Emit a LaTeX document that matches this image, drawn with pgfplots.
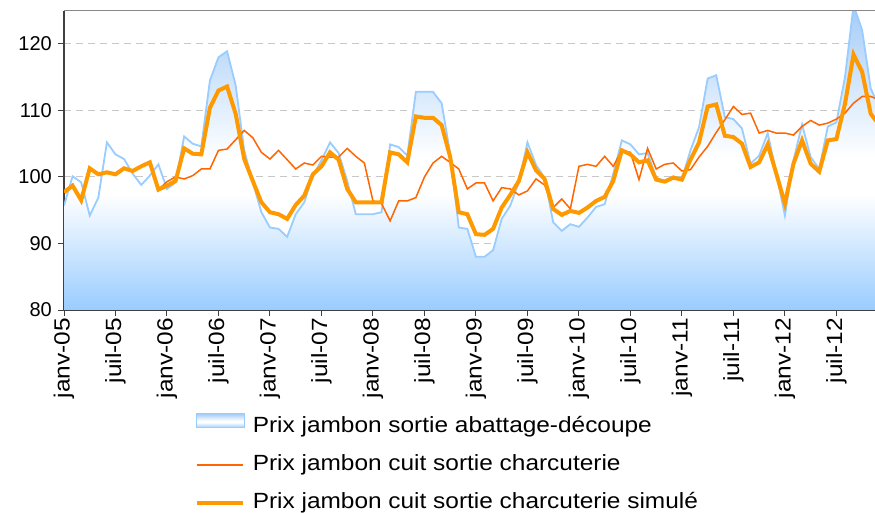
\documentclass[border=0pt]{standalone}
\usepackage{fontspec}
\setmainfont{Liberation Sans}
\newfontfamily\widefont[FakeStretch=1.11]{Liberation Sans}
\usepackage{pgfplots}
\pgfplotsset{compat=1.18}
\usepackage{pgfplotstable}
\definecolor{fillbot}{HTML}{99CCFF}
\definecolor{filltop}{HTML}{A3CCF8}
\definecolor{blueline}{HTML}{99CCFF}
\definecolor{thinor}{HTML}{FF6600}
\definecolor{thickor}{HTML}{FF9900}
\definecolor{gridc}{HTML}{C8C8C8}
\definecolor{axc}{HTML}{404040}
\definecolor{framec}{HTML}{888888}
\pgfdeclareverticalshading{areashade}{100bp}{color(0bp)=(fillbot); color(25bp)=(fillbot); color(44bp)=(white); color(50bp)=(white); color(75bp)=(filltop); color(100bp)=(filltop)}

\pgfplotstableread{
i abat cuit sim
0 95.7 97.7 97.7
1 100.1 98.7 98.7
2 99.2 96.5 96.5
3 94.2 101.3 101.3
4 96.9 100.4 100.4
5 105.2 100.7 100.7
6 103.4 100.4 100.4
7 102.7 101.3 101.3
8 100.5 100.9 100.9
9 98.8 101.6 101.6
10 100.2 102.2 102.2
11 101.9 98.1 98.1
12 98.2 99.3 98.7
13 99.2 100.0 99.4
14 106.1 99.7 104.3
15 105.0 100.2 103.5
16 104.6 101.2 103.4
17 114.5 101.2 110.4
18 118.0 104.0 113.0
19 118.9 104.2 113.6
20 113.8 105.6 109.5
21 104.0 107.0 102.7
22 99.2 105.9 99.4
23 94.7 103.7 96.2
24 92.4 102.7 94.7
25 92.2 104.0 94.4
26 91.0 102.6 93.7
27 94.4 101.2 95.8
28 96.2 102.1 97.2
29 100.2 101.8 100.4
30 102.5 103.1 101.6
31 105.2 103.0 103.7
32 103.6 103.0 102.6
33 99.4 104.3 98.2
34 94.4 103.1 96.2
35 94.4 102.1 96.2
36 94.4 96.4 96.2
37 94.7 96.0 96.2
38 104.9 93.4 103.7
39 104.5 96.4 103.4
40 103.2 96.4 102.2
41 112.8 96.9 109.1
42 112.8 100.0 108.9
43 112.8 102.1 108.9
44 111.1 103.1 107.8
45 103.5 102.2 103.0
46 92.4 101.2 94.7
47 92.2 98.2 94.4
48 88.0 99.1 91.4
49 88.0 99.1 91.3
50 89.0 96.4 92.2
51 93.7 98.4 95.4
52 95.7 98.2 97.3
53 99.2 97.3 99.4
54 105.2 97.9 103.7
55 101.8 99.7 101.0
56 99.9 98.8 99.7
57 93.2 95.4 95.2
58 91.9 96.7 94.3
59 92.9 95.2 94.9
60 92.5 101.6 94.6
61 93.9 101.9 95.4
62 95.5 101.6 96.4
63 95.9 103.1 97.0
64 100.5 101.6 99.4
65 105.5 104.0 104.0
66 104.9 103.7 103.4
67 103.4 99.6 102.2
68 103.6 104.3 102.5
69 99.9 101.2 99.6
70 99.4 101.9 99.3
71 100.1 102.1 99.9
72 99.7 100.9 99.6
73 104.0 101.1 102.6
74 107.5 103.0 105.2
75 114.8 104.6 110.6
76 115.3 106.7 110.9
77 109.0 108.6 106.2
78 108.7 110.6 106.0
79 107.3 109.4 105.0
80 102.0 109.6 101.5
81 103.2 106.6 102.2
82 106.6 107.0 104.9
83 100.5 106.6 100.5
84 94.2 106.6 96.0
85 102.5 106.3 102.0
86 107.9 107.6 105.5
87 103.0 108.5 102.0
88 101.2 107.8 100.8
89 107.6 108.1 105.5
90 108.2 108.7 105.7
91 115.0 109.6 111.0
92 125.8 111.1 118.4
93 122.1 112.1 115.8
94 113.3 112.1 109.5
95 110.5 111.6 107.8
}\data

\begin{document}
\begin{tikzpicture}
\begin{axis}[
  at={(64bp,203bp)}, anchor=south west,
  scale only axis, width=811bp, height=299.3bp,
  xmin=0, xmax=94.5, ymin=80, ymax=125,
  axis lines=left,
  axis line style={-, draw=axc, line width=1.3bp},
  clip mode=individual,
  tick align=outside,
  major tick length=6bp,
  tick style={draw=axc, line width=1bp},
  ytick={80,90,...,120},
  xtick={0,6,...,90},
  xticklabels={janv-05,juil-05,janv-06,juil-06,janv-07,juil-07,janv-08,juil-08,janv-09,juil-09,janv-10,juil-10,janv-11,juil-11,janv-12,juil-12},
  xticklabel style={rotate=90, anchor=east, font=\widefont\fontsize{22bp}{24bp}\selectfont, inner sep=2bp},
  yticklabel style={font=\fontsize{20bp}{24bp}\selectfont, inner sep=2bp, xshift=-4bp},
  /pgf/number format/assume math mode=true,
  ymajorgrids,
  grid style={draw=gridc, line width=1bp, dash pattern=on 7bp off 5bp},
  legend cell align=left,
  legend image code/.code={\draw[#1] (0bp,0bp) -- (46bp,0bp); \path (54bp,0bp);},
  legend style={at={(0.161,-0.344)}, anchor=north west, draw=none, fill=none,
    inner sep=0pt, font=\widefont\fontsize{22bp}{24bp}\selectfont,
    row sep=17bp,
    nodes={inner sep=0pt, text height=16bp, text depth=5bp}},
]
\addplot[draw=none, /tikz/shade, /tikz/shading=areashade,
  legend image code/.code={\shade[top color=fillbot, bottom color=fillbot, middle color=white] (0bp,-1bp) rectangle (48bp,13bp);
    \draw[draw=blueline, line width=1.2bp, fill=none] (0bp,-1bp) rectangle (48bp,13bp); \path (54bp,0bp);}]
  table[x=i,y=abat]{\data} -- (axis cs:95,80) -- (axis cs:0,80) -- cycle;
\addlegendentry{Prix jambon sortie abattage-découpe}
\addplot[draw=blueline, line width=1.8bp, forget plot] table[x=i,y=abat]{\data};
\addplot[draw=thinor, line width=1.5bp] table[x=i,y=cuit]{\data};
\addlegendentry{Prix jambon cuit sortie charcuterie}
\addplot[draw=thickor, line width=4bp] table[x=i,y=sim]{\data};
\addlegendentry{Prix jambon cuit sortie charcuterie simulé}
\draw[draw=framec, line width=1.5bp] (rel axis cs:0,1) -- (rel axis cs:1,1);
\end{axis}
\pgfresetboundingbox
\path[use as bounding box] (0,0) rectangle (875bp,513bp);
\end{tikzpicture}
\end{document}
